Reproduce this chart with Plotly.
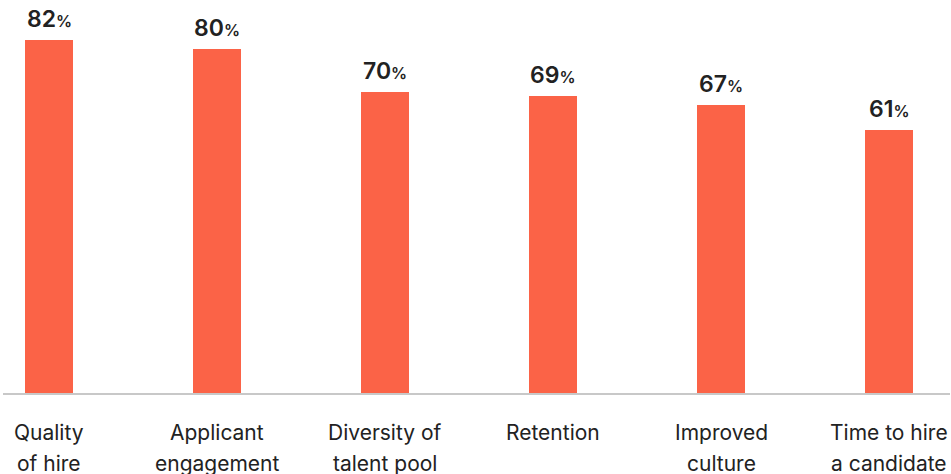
import plotly.graph_objects as go

# Survey results: share of respondents reporting improvement per hiring outcome
categories = ["Quality of hire", "Applicant engagement", "Diversity of talent pool",
              "Retention", "Improved culture", "Time to hire a candidate"]
label_lines = [["Quality", "of hire"], ["Applicant", "engagement"], ["Diversity of", "talent pool"],
               ["Retention", ""], ["Improved", "culture"], ["Time to hire", "a candidate"]]
values = [82, 80, 70, 69, 67, 61]

BAR = "#fb6347"
INK = "#222222"
FONT = "Inter"

fig = go.Figure(go.Bar(
    x=categories, y=values, width=0.29,
    marker=dict(color=BAR, line=dict(width=0)),
    hoverinfo="skip",
))

annotations = []
# value labels above each bar, with a smaller percent sign
for cat, v in zip(categories, values):
    annotations.append(dict(
        x=cat, y=v, xref="x", yref="y", yanchor="bottom", yshift=5,
        text=f"{v}<span style='font-size:16px'>%</span>", showarrow=False,
        font=dict(family=FONT, size=23, color=INK, weight=600),
    ))
# two-line category labels under the axis
for cat, lines in zip(categories, label_lines):
    for i, line in enumerate(lines):
        if not line:
            continue
        annotations.append(dict(
            x=cat, y=0, xref="x", yref="paper", yanchor="top", yshift=-25 - 31 * i,
            text=line, showarrow=False,
            font=dict(family=FONT, size=21, color=INK),
        ))

fig.update_layout(
    width=951, height=474,
    margin=dict(l=3, r=1, t=10, b=81),
    paper_bgcolor="white", plot_bgcolor="white",
    showlegend=False,
    bargap=0,
    annotations=annotations,
    xaxis=dict(type="category", range=[-0.274, 5.363], showticklabels=False,
               showgrid=False, zeroline=False, showline=True, linecolor="#c8c8c8",
               linewidth=2, ticks=""),
    yaxis=dict(range=[0, 88.97], visible=False, showgrid=False, zeroline=False),
)

fig.write_html("out.html")
